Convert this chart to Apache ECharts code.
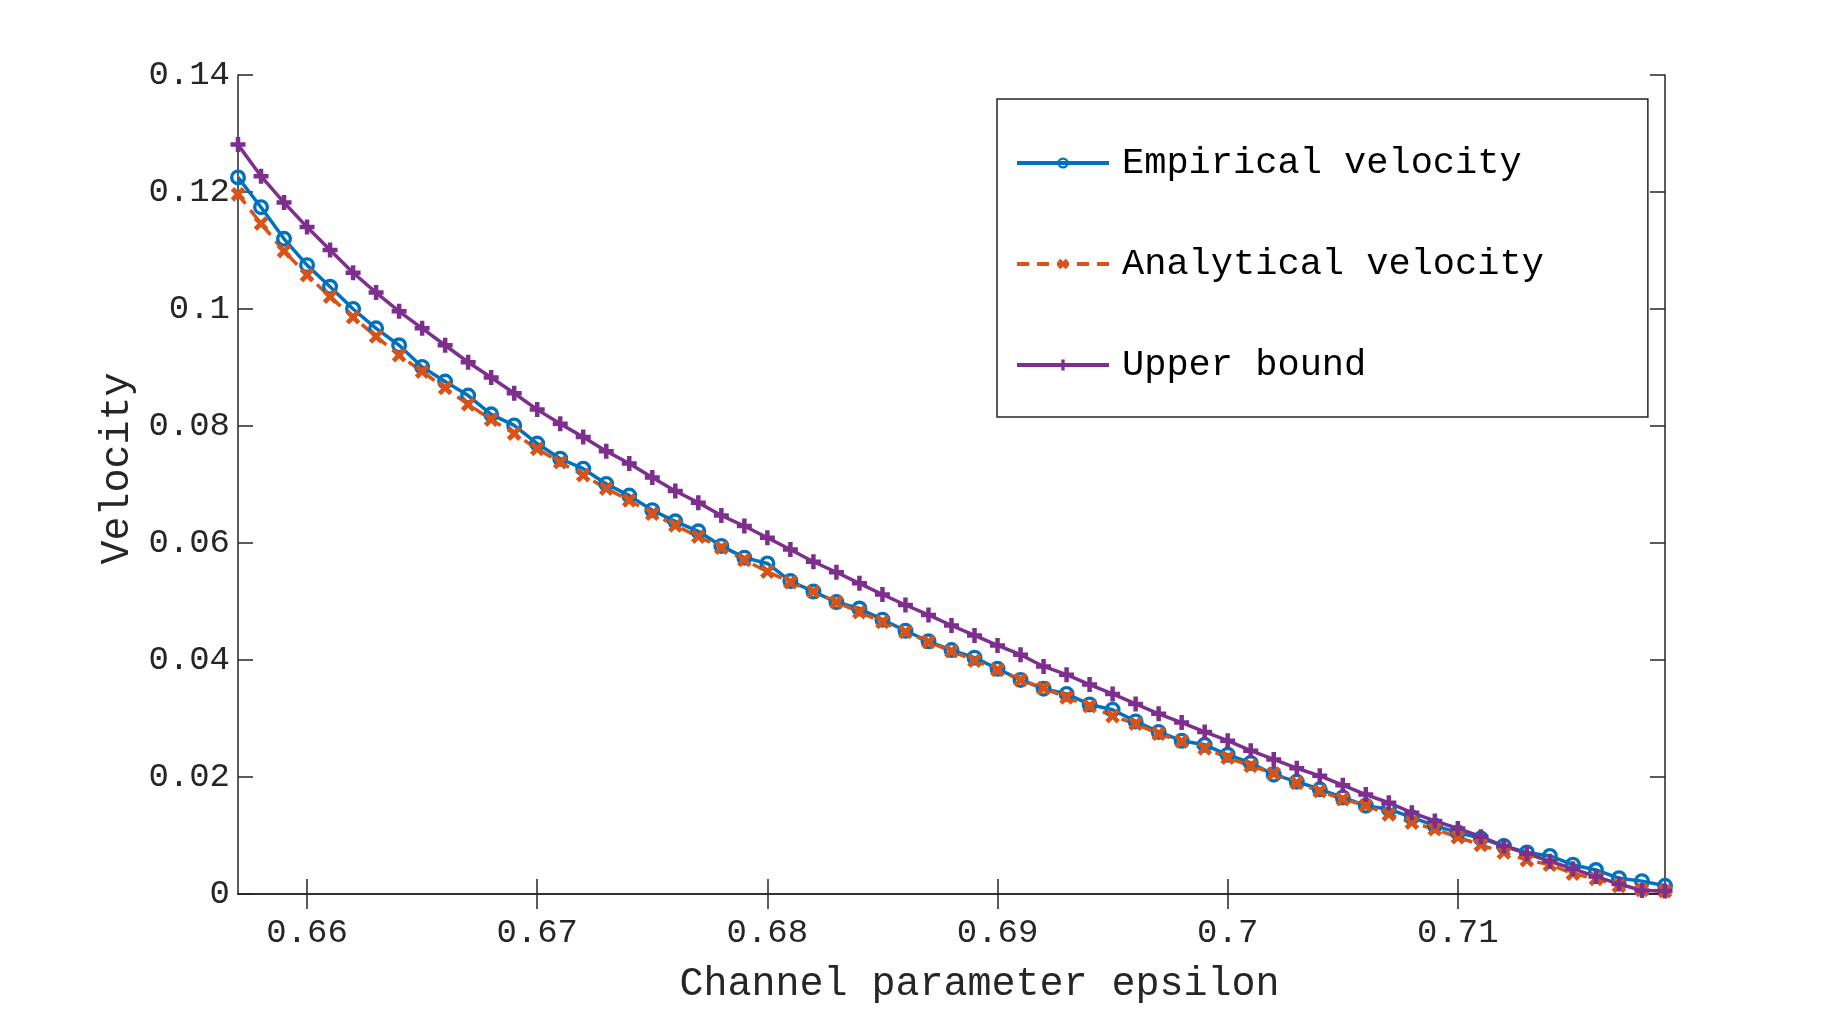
<!DOCTYPE html>
<html lang="en">
<head>
  <meta charset="UTF-8">
  <title>Velocity</title>
  <style>
    html, body { margin: 0; padding: 0; background: #fff; }
    #chart { width: 1842px; height: 1009px; }
  </style>
</head>
<body>
  <div id="chart"></div>
  <script src="https://cdn.jsdelivr.net/npm/echarts@6/dist/echarts.min.js"></script>
  <script>
    // channel parameter epsilon
    var eps = [0.657, 0.658, 0.659, 0.660, 0.661, 0.662, 0.663, 0.664, 0.665, 0.666,
      0.667, 0.668, 0.669, 0.670, 0.671, 0.672, 0.673, 0.674, 0.675, 0.676,
      0.677, 0.678, 0.679, 0.680, 0.681, 0.682, 0.683, 0.684, 0.685, 0.686,
      0.687, 0.688, 0.689, 0.690, 0.691, 0.692, 0.693, 0.694, 0.695, 0.696,
      0.697, 0.698, 0.699, 0.700, 0.701, 0.702, 0.703, 0.704, 0.705, 0.706,
      0.707, 0.708, 0.709, 0.710, 0.711, 0.712, 0.713, 0.714, 0.715, 0.716,
      0.717, 0.718, 0.719];

    var empirical = [0.1225, 0.1174, 0.1120, 0.1075, 0.1038, 0.1000, 0.0967, 0.0938, 0.0901, 0.0876,
      0.0852, 0.0820, 0.0801, 0.0770, 0.0744, 0.0727, 0.0701, 0.0681, 0.0656, 0.0637,
      0.0620, 0.0595, 0.0575, 0.0565, 0.0535, 0.0517, 0.0499, 0.0488, 0.0469, 0.0450,
      0.0432, 0.0417, 0.0404, 0.0385, 0.0366, 0.0351, 0.0342, 0.0324, 0.0315, 0.0295,
      0.0277, 0.0262, 0.0255, 0.0238, 0.0224, 0.0204, 0.0192, 0.0179, 0.0165, 0.0151,
      0.0145, 0.0131, 0.0117, 0.0105, 0.0095, 0.0082, 0.0071, 0.0065, 0.0050, 0.0041,
      0.0027, 0.0022, 0.0014];

    var analytical = [0.1196, 0.1146, 0.1099, 0.1058, 0.1021, 0.0986, 0.0953, 0.0921, 0.0893, 0.0865,
      0.0837, 0.0811, 0.0787, 0.0761, 0.0738, 0.0716, 0.0693, 0.0673, 0.0650, 0.0630,
      0.0611, 0.0592, 0.0571, 0.0551, 0.0533, 0.0517, 0.0499, 0.0482, 0.0465, 0.0448,
      0.0431, 0.0415, 0.0399, 0.0383, 0.0366, 0.0352, 0.0336, 0.0321, 0.0304, 0.0291,
      0.0274, 0.0261, 0.0249, 0.0233, 0.0219, 0.0206, 0.0190, 0.0176, 0.0162, 0.0151,
      0.0136, 0.0122, 0.0111, 0.0097, 0.0084, 0.0071, 0.0058, 0.0050, 0.0035, 0.0026,
      0.0014, 0.0007, 0.0005];

    var upper = [0.1281, 0.1227, 0.1182, 0.1140, 0.1101, 0.1062, 0.1028, 0.0996, 0.0967, 0.0938,
      0.0909, 0.0883, 0.0856, 0.0828, 0.0804, 0.0781, 0.0757, 0.0736, 0.0712, 0.0689,
      0.0669, 0.0647, 0.0629, 0.0609, 0.0589, 0.0568, 0.0550, 0.0531, 0.0512, 0.0494,
      0.0477, 0.0459, 0.0442, 0.0425, 0.0409, 0.0389, 0.0375, 0.0358, 0.0342, 0.0325,
      0.0308, 0.0293, 0.0277, 0.0262, 0.0245, 0.0230, 0.0215, 0.0202, 0.0186, 0.0170,
      0.0156, 0.0139, 0.0125, 0.0112, 0.0098, 0.0082, 0.0069, 0.0056, 0.0043, 0.0030,
      0.0017, 0.0006, 0.0005];

    var seriesNames = ['Empirical velocity', 'Analytical velocity', 'Upper bound'];
    // x ticks (not multiples of min, so listed explicitly)
    var xTicks = [0.66, 0.67, 0.68, 0.69, 0.70, 0.71];

    function pairs(ys) {
      return eps.map(function (x, i) { return [x, ys[i]]; });
    }

    var FONT = 'Liberation Mono';
    var AXIS = '#262626';
    var PLUS = 'path://M3.5,0 H6.5 V3.5 H10 V6.5 H6.5 V10 H3.5 V6.5 H0 V3.5 H3.5 Z';
    var RING = 'path://M0,5 A5,5 0 1,0 10,5 A5,5 0 1,0 0,5 Z M2.1,5 A2.9,2.9 0 1,1 7.9,5 A2.9,2.9 0 1,1 2.1,5 Z';

    var boxAxis = {
      axisLine: { show: true, lineStyle: { color: AXIS, width: 1.5 } },
      axisTick: { show: true, inside: true, length: 15, lineStyle: { color: AXIS, width: 1.5 } },
      axisLabel: { show: false },
      splitLine: { show: false }
    };

    var myChart = echarts.init(document.getElementById('chart'));
    var option = {
      animation: false,
      backgroundColor: '#fff',
      grid: { left: 238, top: 75, right: 177, bottom: 112 },
      legend: {
        orient: 'vertical',
        left: 997,
        top: 99,
        padding: [44, 104, 32, 18],
        itemGap: 61,
        itemWidth: 92,
        itemHeight: 14,
        borderColor: AXIS,
        borderWidth: 1.5,
        backgroundColor: '#fff',
        lineStyle: { width: 4 },
        textStyle: { fontFamily: FONT, fontSize: 37, color: '#000', lineHeight: 40, padding: [0, 0, 0, 8] },
        data: seriesNames
      },
      xAxis: [
        Object.assign({}, boxAxis, {
          type: 'value', position: 'bottom',
          min: 0.657, max: 0.719,
          axisTick: { show: true, inside: true, length: 15, customValues: xTicks, lineStyle: { color: AXIS, width: 1.5 } },
          axisLabel: {
            show: true, customValues: xTicks,
            margin: 22, fontFamily: FONT, fontSize: 34, color: AXIS
          },
          name: 'Channel parameter epsilon',
          nameLocation: 'middle',
          nameGap: 70,
          nameTextStyle: { fontFamily: FONT, fontSize: 40, color: AXIS, padding: [0, 0, 0, 56] }
        }),
        Object.assign({}, boxAxis, {
          type: 'value', position: 'top',
          min: 0.657, max: 0.719,
          axisTick: { show: true, inside: true, length: 15, customValues: xTicks, lineStyle: { color: AXIS, width: 1.5 } }
        })
      ],
      yAxis: [
        Object.assign({}, boxAxis, {
          type: 'value', position: 'left',
          min: 0, max: 0.14, interval: 0.02,
          axisLabel: { show: true, margin: 8, fontFamily: FONT, fontSize: 34, color: AXIS },
          name: 'Velocity',
          nameLocation: 'middle',
          nameGap: 100,
          nameTextStyle: { fontFamily: FONT, fontSize: 40, color: AXIS, padding: [0, 0, 0, 32] }
        }),
        Object.assign({}, boxAxis, {
          type: 'value', position: 'right',
          min: 0, max: 0.14, interval: 0.02
        })
      ],
      series: [
        {
          name: seriesNames[0],
          type: 'line',
          data: pairs(empirical),
          color: '#0072BD',
          lineStyle: { width: 3.5, color: '#0072BD' },
          symbol: RING,
          symbolSize: 16,
          itemStyle: { color: '#0072BD' },
          showAllSymbol: true
        },
        {
          name: seriesNames[1],
          type: 'line',
          data: pairs(analytical),
          color: '#D95319',
          lineStyle: { width: 3.5, color: '#D95319', type: [12, 8] },
          symbol: PLUS,
          symbolRotate: 45,
          symbolSize: 16,
          itemStyle: { color: '#D95319' },
          showAllSymbol: true
        },
        {
          name: seriesNames[2],
          type: 'line',
          data: pairs(upper),
          color: '#7E2F8E',
          lineStyle: { width: 3.5, color: '#7E2F8E' },
          symbol: PLUS,
          symbolSize: 15,
          itemStyle: { color: '#7E2F8E' },
          showAllSymbol: true
        }
      ]
    };
    myChart.setOption(option);
  </script>
</body>
</html>
